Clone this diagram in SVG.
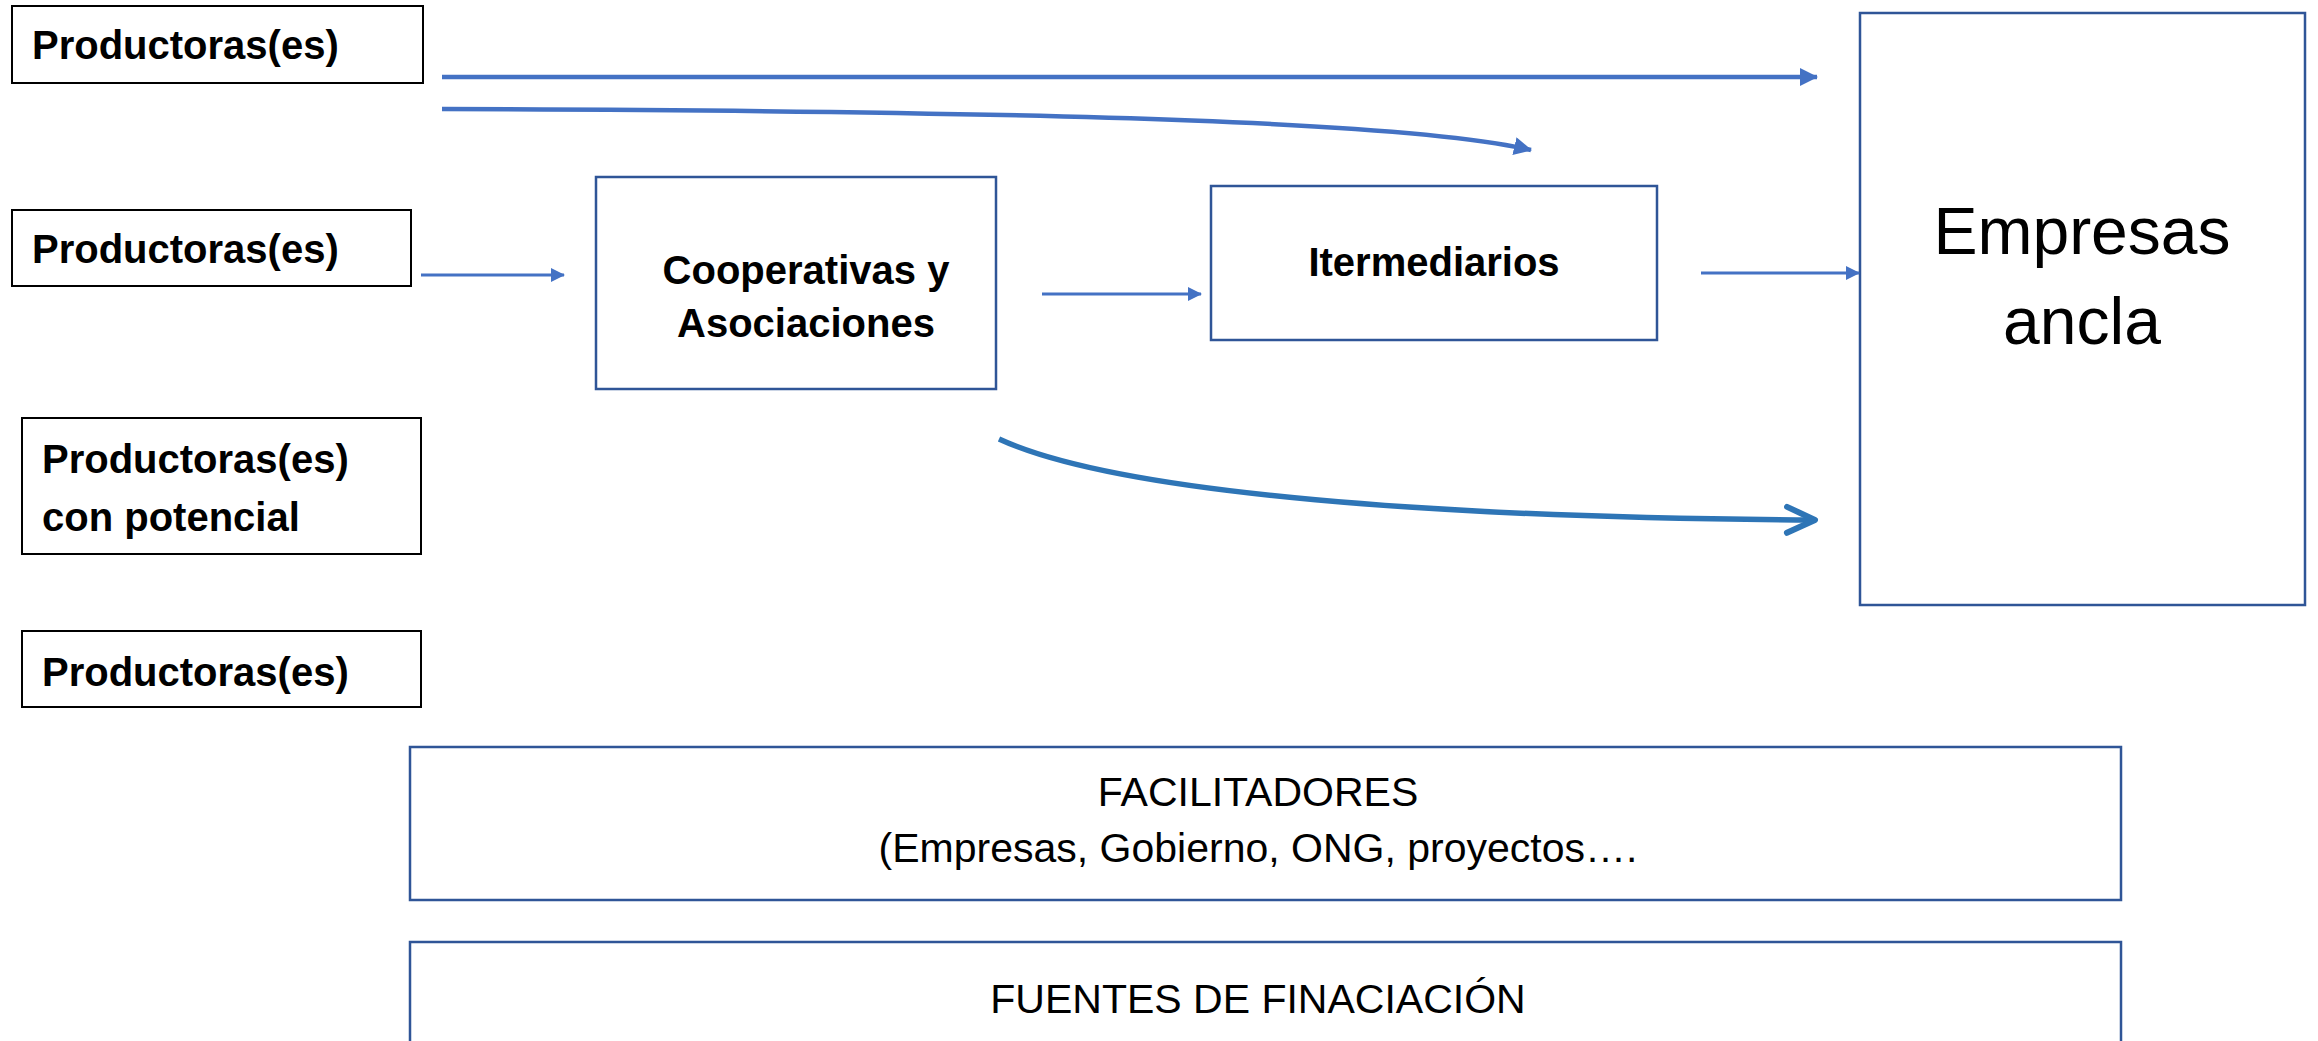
<svg xmlns="http://www.w3.org/2000/svg" width="2318" height="1041" viewBox="0 0 2318 1041">
<style>
.prod{fill:#fff;stroke:#000;stroke-width:2}
.blue{fill:#fff;stroke:#2F5597;stroke-width:2.5}
.b{font-family:"Liberation Sans",Arial,sans-serif;font-weight:bold;font-size:40px;fill:#000}
.r{font-family:"Liberation Sans",Arial,sans-serif;font-size:41px;fill:#000}
.big{font-family:"Liberation Sans",Arial,sans-serif;font-size:66px;fill:#000}
.conn{fill:none;stroke:#4472C4}
</style>
<defs>
<marker id="tri" markerUnits="userSpaceOnUse" viewBox="0 0 18 18" refX="17" refY="9" markerWidth="18" markerHeight="18" orient="auto">
<path d="M0,0 L18,9 L0,18 Z" fill="#4472C4"/>
</marker>
<marker id="tri2" markerUnits="userSpaceOnUse" viewBox="0 0 14 14" refX="13" refY="7" markerWidth="14" markerHeight="14" orient="auto">
<path d="M0,0 L14,7 L0,14 Z" fill="#4472C4"/>
</marker>
<marker id="chev" markerUnits="userSpaceOnUse" viewBox="0 0 40 36" refX="34" refY="18" markerWidth="40" markerHeight="36" orient="auto">
<path d="M6,5 L34,18 L6,31" fill="none" stroke="#2E75B6" stroke-width="6" stroke-linecap="round" stroke-linejoin="round"/>
</marker>
</defs>

<g id="prod1">
<rect class="prod" x="12" y="6" width="411" height="77"/>
<text class="b" x="32" y="59">Productoras(es)</text>
</g>
<g id="prod2">
<rect class="prod" x="12" y="210" width="399" height="76"/>
<text class="b" x="32" y="263">Productoras(es)</text>
</g>
<g id="prod3">
<rect class="prod" x="22" y="418" width="399" height="136"/>
<text class="b" x="42" y="473">Productoras(es)</text>
<text class="b" x="42" y="531">con potencial</text>
</g>
<g id="prod4">
<rect class="prod" x="22" y="631" width="399" height="76"/>
<text class="b" x="42" y="686">Productoras(es)</text>
</g>
<g id="coop">
<rect class="blue" x="596" y="177" width="400" height="212"/>
<text class="b" x="806" y="284" text-anchor="middle">Cooperativas y</text>
<text class="b" x="806" y="337" text-anchor="middle">Asociaciones</text>
</g>
<g id="inter">
<rect class="blue" x="1211" y="186" width="446" height="154"/>
<text class="b" x="1434" y="276" text-anchor="middle">Itermediarios</text>
</g>
<g id="empresas">
<rect class="blue" x="1860" y="13" width="445" height="592"/>
<text class="big" x="2082" y="254" text-anchor="middle">Empresas</text>
<text class="big" x="2082" y="344" text-anchor="middle">ancla</text>
</g>
<g id="facilitadores">
<rect class="blue" x="410" y="747" width="1711" height="153"/>
<text class="r" x="1258" y="806" text-anchor="middle">FACILITADORES</text>
<text class="r" x="1258" y="862" text-anchor="middle">(Empresas, Gobierno, ONG, proyectos….</text>
</g>
<g id="fuentes">
<rect class="blue" x="410" y="942" width="1711" height="120"/>
<text class="r" x="1258" y="1013" text-anchor="middle">FUENTES DE FINACIACIÓN</text>
</g>

<g id="connectors">
<path class="conn" stroke-width="4.5" d="M442,77 L1817,77" marker-end="url(#tri)"/>
<path class="conn" stroke-width="4.5" d="M442,109 C1100,111 1420,124 1531,150" marker-end="url(#tri)"/>
<path class="conn" stroke-width="3" d="M421,275 L564,275" marker-end="url(#tri2)"/>
<path class="conn" stroke-width="3" d="M1042,294 L1201,294" marker-end="url(#tri2)"/>
<path class="conn" stroke-width="3" d="M1701,273 L1859,273" marker-end="url(#tri2)"/>
<path fill="none" stroke="#2E75B6" stroke-width="5.5" d="M999,439 C1120,495 1450,518 1815,520" marker-end="url(#chev)"/>
</g>
</svg>
